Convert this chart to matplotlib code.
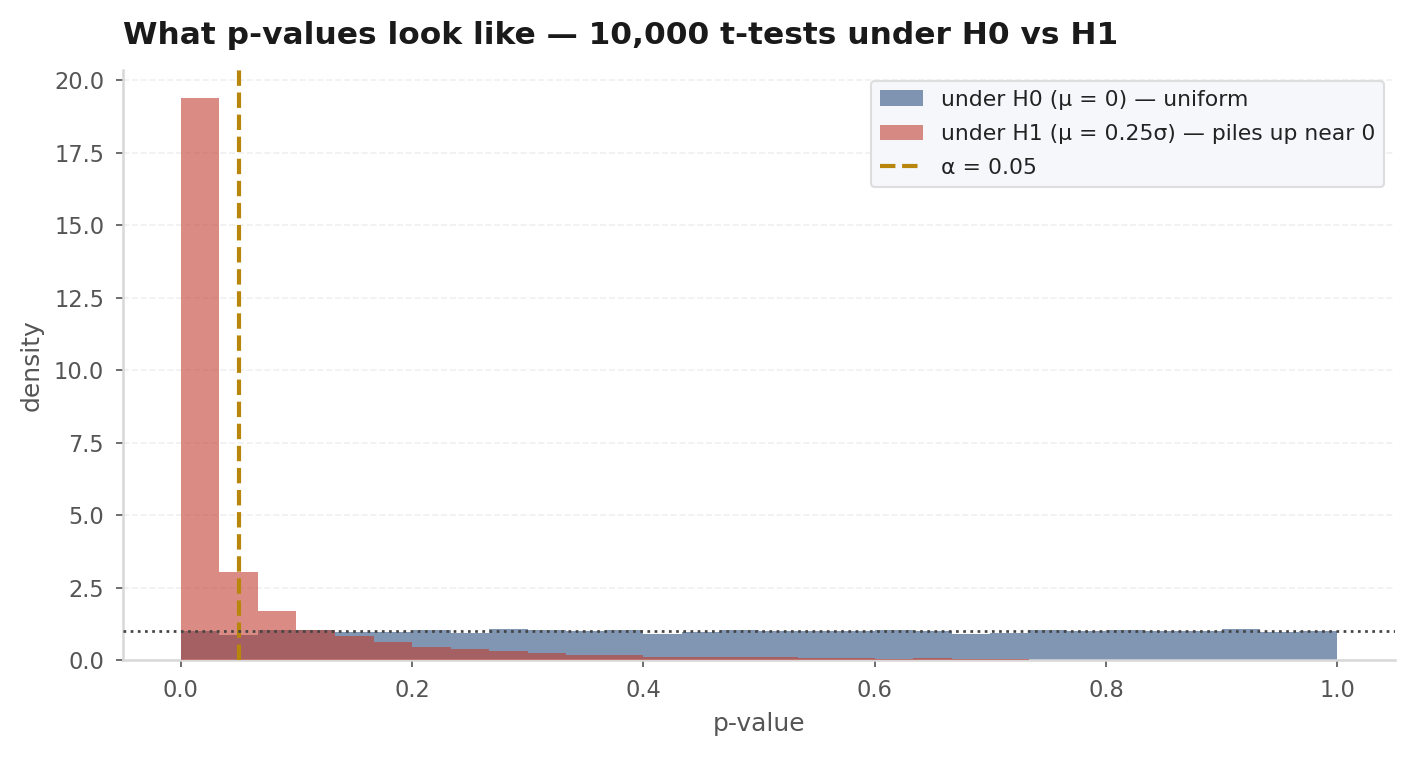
import numpy as np
import matplotlib
matplotlib.use("Agg")
import matplotlib.pyplot as plt

plt.rcParams['font.family'] = ['DejaVu Sans']

# histogram heights (density), 30 bins on [0, 1]
h0_density = [1.00, 0.88, 1.04, 1.03, 0.96, 0.96, 1.03, 0.93, 1.06, 1.03,
              1.00, 1.03, 0.89, 0.96, 1.03, 1.00, 1.00, 1.02, 1.05, 1.02,
              0.90, 0.94, 1.05, 1.02, 1.05, 1.00, 1.00, 1.08, 0.98, 1.00]
h1_density = [19.37, 3.04, 1.69, 1.04, 0.83, 0.62, 0.44, 0.37, 0.30, 0.26,
              0.19, 0.16, 0.12, 0.12, 0.12, 0.10, 0.07, 0.07, 0.03, 0.07,
              0.03, 0.03, 0.02, 0.02, 0.02, 0.01, 0.01, 0.01, 0.01, 0.01]
alpha_level = 0.05
uniform_level = 1.0

edges = np.linspace(0, 1, len(h0_density) + 1)
width = edges[1] - edges[0]

fig = plt.figure(figsize=(1415 / 150, 757 / 150), dpi=150)
ax = fig.add_axes([0.0869, 0.128, 0.899, 0.7795])

b0 = ax.bar(edges[:-1], h0_density, width=width, align='edge', color='#4C6A92',
            alpha=0.7, linewidth=0, label='under H0 (μ = 0) — uniform', zorder=2)
b1 = ax.bar(edges[:-1], h1_density, width=width, align='edge', color='#C0392B',
            alpha=0.58, linewidth=0, label='under H1 (μ = 0.25σ) — piles up near 0', zorder=3)
vl = ax.axvline(alpha_level, color='#B8860B', linestyle='--', linewidth=2,
                label='α = 0.05', zorder=4)
ax.axhline(uniform_level, color='#444444', linestyle=':', linewidth=1.3, zorder=4)

ax.set_xlim(-0.05, 1.05)
ax.set_ylim(0, 20.35)

ax.grid(axis='y', linestyle='--', color='#f0f0f0', linewidth=0.8, zorder=0)
ax.set_axisbelow(True)
for s in ['top', 'right']:
    ax.spines[s].set_visible(False)
for s in ['left', 'bottom']:
    ax.spines[s].set_color('#d8d8d8')
    ax.spines[s].set_linewidth(1.2)
ax.tick_params(colors='#555555', labelsize=10.8, length=3.5, pad=5.5)

ax.set_xlabel('p-value', fontsize=12, color='#555555', labelpad=5)
ax.set_ylabel('density', fontsize=12, color='#555555', labelpad=5)
ax.set_title('What p-values look like — 10,000 t-tests under H0 vs H1',
             loc='left', fontsize=15, fontweight='bold', color='#1a1a1a', pad=12.5)

leg = ax.legend(handles=[b0, b1, vl], loc='upper right', fontsize=10.5,
                frameon=True, fancybox=True, labelspacing=0.65)
leg.get_frame().set_facecolor('#f5f7fb')
leg.get_frame().set_edgecolor('#dddddd')
leg.get_frame().set_alpha(1)
for t in leg.get_texts():
    t.set_color('#222222')

fig.savefig('out.png', dpi=150)
